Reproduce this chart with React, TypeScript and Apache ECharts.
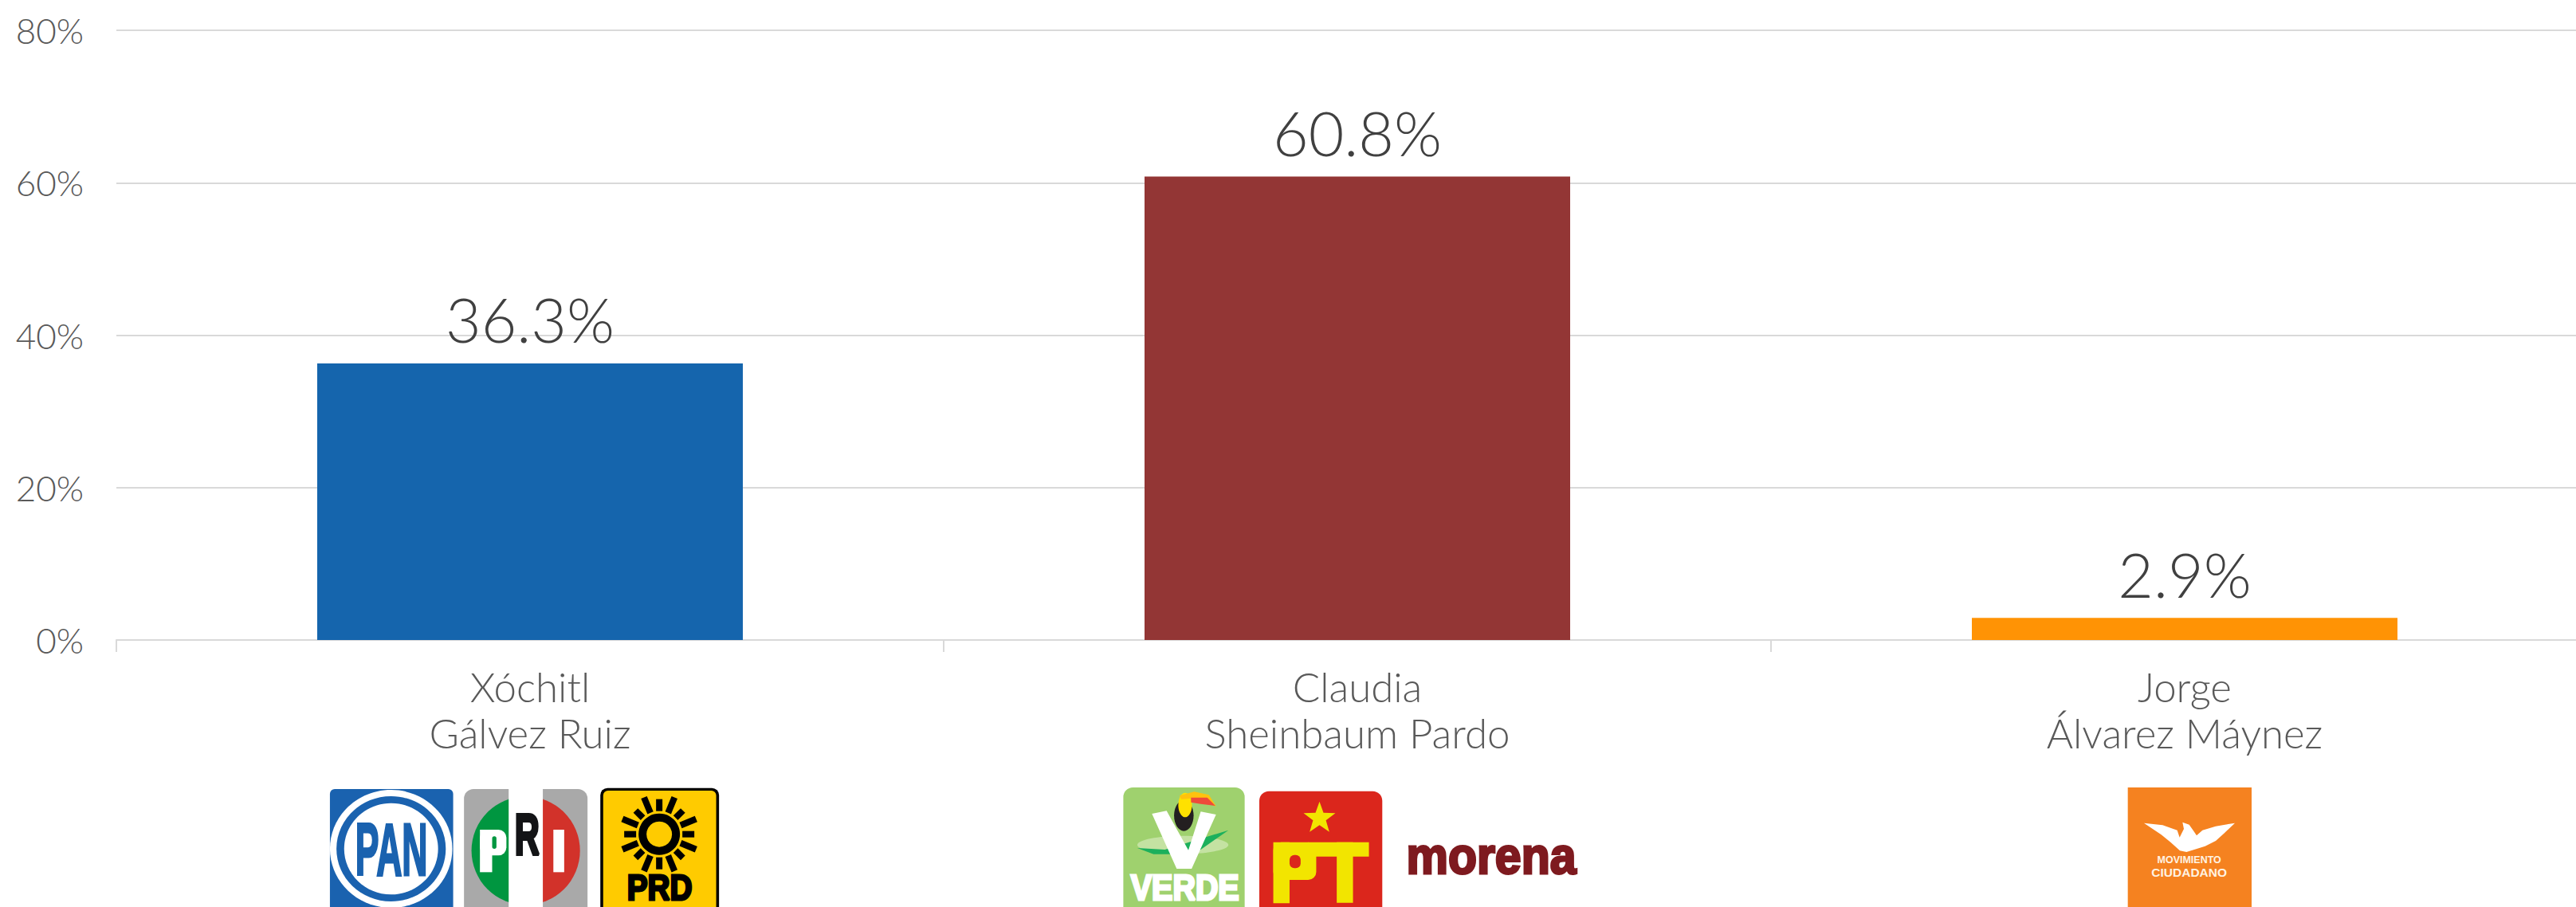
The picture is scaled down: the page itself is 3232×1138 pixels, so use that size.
import React, { useEffect, useRef } from "react";
import * as echarts from "echarts";

const candidates = ["Xóchitl\nGálvez Ruiz", "Claudia\nSheinbaum Pardo", "Jorge\nÁlvarez Máynez"];
const shares = [36.3, 60.8, 2.9];
const barColors = ["#1565AD", "#933635", "#FF9305"];
const FONT = "Lato";
const LOGO_FONT = "Liberation Sans";

const measure = (s: string, size: number) => {
  const c = document.createElement("canvas").getContext("2d")!;
  c.font = `bold ${size}px "${LOGO_FONT}"`;
  return c.measureText(s).width;
};

// builds logo elements in the coordinates of a crop: ox + zx / sx, 960 + zy / 3
function logoKit(ox: number, sx: number) {
  const X = (z: number) => ox + z / sx;
  const Y = (z: number) => 960 + z / 3;
  const rect = (x0: number, y0: number, x1: number, y1: number, fill: string, r = 0) => ({
    type: "rect",
    shape: { x: X(x0), y: Y(y0), width: (x1 - x0) / sx, height: (y1 - y0) / 3, r },
    style: { fill },
  });
  const poly = (pts: number[][], fill: string) => ({
    type: "polygon",
    shape: { points: pts.map(([a, b]) => [X(a), Y(b)]) },
    style: { fill },
  });
  const ell = (cx: number, cy: number, rx: number, ry: number, fill: string) => ({
    type: "ellipse",
    shape: { cx: X(cx), cy: Y(cy), rx: rx / sx, ry: ry / 3 },
    style: { fill },
  });
  const txt = (s: string, x0: number, x1: number, base: number, capZ: number, fill: string, capRatio = 0.716, heavy = 2) => {
    const capH = capZ / 3;
    const size = capH / capRatio;
    return {
      type: "text",
      x: X(x0),
      y: Y(base) - capH / 2,
      scaleX: (x1 - x0) / sx / measure(s, size),
      style: {
        text: s, fill, stroke: fill, lineWidth: heavy, fontSize: size, lineHeight: capH, fontWeight: "bold", fontFamily: LOGO_FONT,
        align: "left", verticalAlign: "middle",
      },
    };
  };
  return { X, Y, rect, poly, ell, txt };
}

function panLogo() {
  const k = logoKit(380, 2.8);
  return [
    k.rect(95, 90, 528, 600, "#1A62AF", 6),
    k.ell(310, 315, 215, 222, "#FFFFFF"),
    k.ell(310, 315, 192, 198, "#1A62AF"),
    k.ell(310, 315, 165, 172, "#FFFFFF"),
    k.txt("PAN", 184, 438, 416, 199, "#1A62AF", 0.716, 3),
  ];
}

function priLogo() {
  const k = logoKit(380, 2.8);
  const cx = k.X(783), cy = k.Y(322), r = 68;
  return [
    k.rect(566, 90, 1000, 600, "#A9A9A9", 12),
    { type: "sector", shape: { cx, cy, r, r0: 0, startAngle: Math.PI / 2, endAngle: (3 * Math.PI) / 2 }, style: { fill: "#009640" } },
    { type: "sector", shape: { cx, cy, r, r0: 0, startAngle: -Math.PI / 2, endAngle: Math.PI / 2 }, style: { fill: "#D2322A" } },
    k.rect(723, 90, 843, 600, "#FFFFFF"),
    k.rect(622, 243, 665, 403, "#FFFFFF"),
    k.rect(622, 243, 715, 340, "#FFFFFF", 10),
    k.rect(665, 268, 680, 315, "#009640", 4),
    k.txt("R", 744, 831, 340, 157, "#131416", 0.716, 4),
    k.rect(880, 243, 918, 403, "#FFFFFF"),
  ];
}

function prdLogo() {
  const k = logoKit(380, 2.8);
  const cx = k.X(1252), cy = k.Y(260);
  const rays = Array.from({ length: 16 }, (_, i) => {
    const a = (i * Math.PI) / 8;
    const long = i % 4 === 1 || i % 4 === 3;
    const diag = i % 4 === 2;
    const r1 = long ? 50 : diag ? 42 : 44;
    return {
      type: "rect",
      x: cx, y: cy, rotation: -a,
      shape: { x: 29, y: -4, width: r1 - 29, height: 8 },
      style: { fill: "#000000" },
    };
  });
  return [
    k.rect(1045, 86, 1462, 600, "#000000", 9),
    k.rect(1055, 96, 1452, 600, "#FFCB00", 6),
    ...rays,
    { type: "circle", shape: { cx, cy, r: 26 }, style: { fill: "#000000" } },
    { type: "circle", shape: { cx, cy, r: 16 }, style: { fill: "#FFCB00" } },
    k.txt("PRD", 1139, 1368, 510, 96, "#000000", 0.716, 3),
  ];
}

function verdeLogo() {
  const k = logoKit(1380, 2.45);
  return [
    k.rect(72, 84, 445, 600, "#9FD16E", 12),
    k.ell(255, 300, 140, 34, "#C4E2A2"),
    k.poly([[115, 312], [200, 318], [395, 245], [310, 318], [235, 335], [165, 335]], "#1CB05C"),
    k.poly([[160, 183], [205, 172], [272, 320], [310, 175], [357, 186], [282, 390], [236, 390]], "#FFFFFF"),
    k.ell(258, 190, 30, 58, "#231F20"),
    k.ell(262, 150, 21, 46, "#FFE100"),
    k.poly([[245, 115], [290, 100], [335, 112], [357, 155], [320, 140], [280, 125], [250, 128]], "#FFC20E"),
    k.poly([[280, 122], [330, 122], [355, 153], [310, 146], [280, 140]], "#EE4B3A"),
    k.txt("VERDE", 95, 428, 510, 96, "#FFFFFF", 0.716, 3),
  ];
}

function ptLogo() {
  const k = logoKit(1380, 2.45);
  const cx = k.X(675), cy = k.Y(200);
  const star = Array.from({ length: 10 }, (_, i) => {
    const a = -Math.PI / 2 + (i * Math.PI) / 5;
    const r = i % 2 === 0 ? 21 : 8.5;
    return [cx + r * Math.cos(a), cy + r * Math.sin(a)];
  });
  return [
    k.rect(490, 98, 868, 600, "#DB261C", 12),
    { type: "polygon", shape: { points: star }, style: { fill: "#F2E500" } },
    k.rect(533, 290, 583, 520, "#F2E500"),
    k.rect(533, 290, 665, 432, "#F2E500", 10),
    k.rect(583, 338, 617, 388, "#DB261C", 6),
    k.rect(640, 290, 827, 344, "#F2E500"),
    k.rect(728, 290, 778, 518, "#F2E500"),
  ];
}

function morenaLogo() {
  const k = logoKit(1380, 2.45);
  return [k.txt("morena", 942, 1464, 390, 101, "#7E1A1F", 0.519, 3)];
}

function mcLogo() {
  const k = logoKit(2600, 3);
  const wings = [
    [270, 218], [340, 226], [395, 245], [404, 272], [420, 240], [415, 215], [440, 224], [458, 250], [468, 265],
    [490, 245], [540, 230], [612, 218], [570, 258], [540, 285], [500, 305], [430, 327], [405, 322], [370, 290], [335, 262],
  ];
  const small = (s: string, y: number, size: number) => ({
    type: "text",
    x: k.X(440), y: k.Y(y),
    style: {
      text: s, fill: "#FFF3E2", fontSize: size, fontWeight: "bold", fontFamily: LOGO_FONT,
      align: "center", verticalAlign: "middle",
    },
  });
  return [
    k.rect(209, 84, 675, 600, "#F58220"),
    k.poly(wings, "#FFFFFF"),
    small("MOVIMIENTO", 358, 12.5),
    small("CIUDADANO", 403, 15.5),
  ];
}

export default function App() {
  const ref = useRef<HTMLDivElement>(null);
  useEffect(() => {
    document.body.style.margin = "0";
    const chart = echarts.init(ref.current!, null, { renderer: "svg" });
    chart.setOption({
      animation: false,
      backgroundColor: "#FFFFFF",
      grid: { left: 146, top: 38, width: 3114, height: 765, containLabel: false, outerBoundsMode: "none" },
      xAxis: {
        type: "category",
        data: candidates,
        axisLine: { lineStyle: { color: "#D9D9D9", width: 2 } },
        axisTick: { show: true, length: 15, lineStyle: { color: "#D9D9D9", width: 2 } },
        axisLabel: {
          color: "#595959", fontFamily: FONT, fontWeight: 300, fontSize: 51, lineHeight: 58, margin: 29, interval: 0,
        },
      },
      yAxis: {
        type: "value",
        min: 0, max: 80, interval: 20,
        axisLine: { show: false },
        axisTick: { show: false },
        splitLine: { lineStyle: { color: "#D9D9D9", width: 2 } },
        axisLabel: {
          color: "#595959", fontFamily: FONT, fontWeight: 300, fontSize: 44, margin: 41, formatter: "{value}%",
        },
      },
      series: [
        {
          type: "bar",
          barWidth: 534,
          data: shares.map((value, i) => ({ value, itemStyle: { color: barColors[i] } })),
          label: {
            show: true, position: "top", distance: 17, color: "#404040",
            fontFamily: FONT, fontWeight: 300, fontSize: 77, formatter: "{c}%",
          },
        },
      ],
      graphic: {
        elements: [...panLogo(), ...priLogo(), ...prdLogo(), ...verdeLogo(), ...ptLogo(), ...morenaLogo(), ...mcLogo()],
      },
    });
    return () => chart.dispose();
  }, []);
  return <div ref={ref} style={{ position: "absolute", left: 0, top: 0, width: 3232, height: 1138, overflow: "hidden" }} />;
}
